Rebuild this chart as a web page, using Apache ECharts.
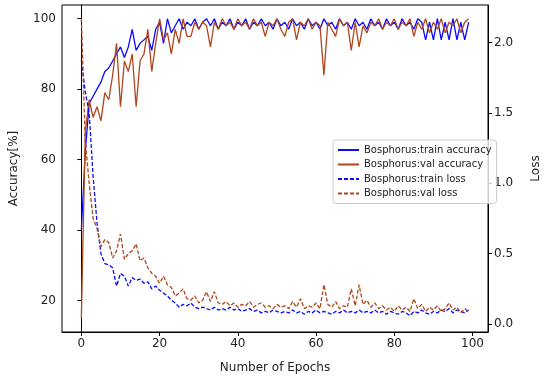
<!DOCTYPE html>
<html>
<head>
<meta charset="utf-8">
<script src="https://cdn.jsdelivr.net/npm/echarts@6/dist/echarts.min.js"></script>
<style>html,body{margin:0;padding:0;background:#fff}#c{width:550px;height:379px}</style>
</head>
<body>
<div id="c"></div>
<script>
const xTicks = [0, 20, 40, 60, 80, 100];
const accTicks = [20, 40, 60, 80, 100];
const lossTicks = [0, 0.5, 1.0, 1.5, 2.0];

const trainAcc = [40, 62, 76, 78, 80, 82, 85, 86, 88, 90,
  92, 89, 92, 97, 91, 93, 94, 95, 91, 97,
  99, 93, 100, 96, 98, 100, 97, 99, 98, 100,
  97, 99, 100, 98, 100, 97, 99, 98, 100, 97,
  99, 98, 100, 97, 99, 98, 100, 98, 99, 97,
  100, 98, 99, 97, 100, 98, 99, 97, 100, 98,
  99, 97, 100, 98, 99, 97, 100, 98, 99, 97,
  100, 98, 99, 97, 100, 98, 99, 97, 100, 98,
  99, 97, 100, 98, 99, 97, 100, 99, 94, 99,
  94, 100, 94, 99, 94, 100, 94, 99, 94, 99];

const valAcc = [15, 68, 77, 72, 75, 71, 79, 77, 84, 93,
  75, 88, 85, 90, 75, 88, 90, 97, 85, 93,
  100, 94, 96, 90, 97, 93, 100, 95, 95, 99,
  97, 99, 98, 92, 99, 97, 100, 98, 99, 97,
  100, 98, 99, 97, 100, 98, 99, 95, 99, 98,
  100, 97, 95, 99, 100, 94, 99, 98, 100, 97,
  99, 98, 84, 99, 97, 95, 100, 98, 99, 91,
  99, 92, 98, 96, 99, 98, 100, 97, 99, 98,
  100, 97, 99, 98, 100, 95, 99, 97, 100, 96,
  99, 97, 100, 96, 99, 98, 100, 96, 99, 100];

const trainLoss = [1.87, 1.65, 1.5, 1.05, 0.72, 0.5, 0.43, 0.42, 0.40, 0.27,
  0.36, 0.34, 0.27, 0.33, 0.31, 0.32, 0.29, 0.30, 0.25, 0.27,
  0.24, 0.22, 0.20, 0.17, 0.15, 0.12, 0.14, 0.13, 0.15, 0.12,
  0.11, 0.12, 0.11, 0.10, 0.12, 0.10, 0.11, 0.10, 0.12, 0.10,
  0.11, 0.09, 0.10, 0.11, 0.09, 0.10, 0.08, 0.09, 0.08, 0.10,
  0.09, 0.08, 0.09, 0.08, 0.10, 0.08, 0.09, 0.07, 0.09, 0.08,
  0.10, 0.08, 0.09, 0.08, 0.07, 0.09, 0.08, 0.10, 0.08, 0.09,
  0.08, 0.10, 0.08, 0.09, 0.08, 0.10, 0.08, 0.09, 0.07, 0.09,
  0.08, 0.07, 0.09, 0.08, 0.06, 0.09, 0.08, 0.10, 0.08, 0.07,
  0.09, 0.08, 0.10, 0.09, 0.11, 0.08, 0.10, 0.09, 0.08, 0.10];

const valLoss = [2.17, 1.3, 1.0, 0.75, 0.68, 0.55, 0.60, 0.58, 0.47, 0.52,
  0.64, 0.46, 0.50, 0.52, 0.57, 0.45, 0.47, 0.40, 0.36, 0.34,
  0.29, 0.34, 0.28, 0.26, 0.20, 0.22, 0.25, 0.18, 0.17, 0.20,
  0.15, 0.17, 0.23, 0.16, 0.23, 0.15, 0.14, 0.16, 0.13, 0.15,
  0.12, 0.14, 0.13, 0.16, 0.12, 0.14, 0.15, 0.12, 0.13, 0.11,
  0.14, 0.12, 0.13, 0.11, 0.16, 0.12, 0.18, 0.11, 0.13, 0.12,
  0.15, 0.11, 0.28, 0.14, 0.12, 0.16, 0.11, 0.13, 0.12, 0.25,
  0.13, 0.28, 0.14, 0.17, 0.12, 0.15, 0.11, 0.13, 0.10, 0.12,
  0.09, 0.13, 0.10, 0.12, 0.09, 0.18, 0.11, 0.14, 0.09, 0.12,
  0.10, 0.13, 0.09, 0.11, 0.15, 0.10, 0.12, 0.08, 0.11, 0.09];

const names = ['Bosphorus:train accuracy', 'Bosphorus:val accuracy', 'Bosphorus:train loss', 'Bosphorus:val loss'];
const BLUE = '#0a0aff';
const BROWN = '#b0461c';
const FONT = 'DejaVu Sans';

function pairs(arr) { return arr.map((v, i) => [i, v]); }

const chart = echarts.init(document.getElementById('c'), null, { renderer: 'canvas' });
chart.setOption({
  animation: false,
  backgroundColor: '#fff',
  grid: { left: 55, right: 48, top: 5, bottom: 42, show: true, borderColor: '#000', borderWidth: 1, backgroundColor: 'transparent' },
  legend: {
    orient: 'vertical', left: 333, top: 140,
    data: names,
    itemWidth: 21, itemHeight: 8, itemGap: 2.5,
    padding: [4, 5, 4, 4],
    borderColor: '#ccc', borderWidth: 1, borderRadius: 3,
    backgroundColor: 'rgba(255,255,255,0.8)',
    itemStyle: { opacity: 0 },
    textStyle: { fontFamily: FONT, fontSize: 10, lineHeight: 12, color: '#222' }
  },
  xAxis: {
    type: 'value', min: -4.95, max: 103.95,
    name: 'Number of Epochs', nameLocation: 'middle', nameGap: 30,
    nameTextStyle: { fontFamily: FONT, fontSize: 12, color: '#222' },
    axisLine: { show: true, onZero: false, lineStyle: { color: '#000' } },
    axisTick: { show: true, length: 4, customValues: xTicks, lineStyle: { color: '#000' } },
    axisLabel: { customValues: xTicks, fontFamily: FONT, fontSize: 12, color: '#222', margin: 6 },
    splitLine: { show: false }
  },
  yAxis: [{
    type: 'value', min: 11.05, max: 103.9, position: 'left',
    name: 'Accuracy[%]', nameLocation: 'middle', nameGap: 42,
    nameTextStyle: { fontFamily: FONT, fontSize: 12, color: '#222' },
    axisLine: { show: true, lineStyle: { color: '#000' } },
    axisTick: { show: true, length: 4, customValues: accTicks, lineStyle: { color: '#000' } },
    axisLabel: { customValues: accTicks, fontFamily: FONT, fontSize: 12, color: '#222', margin: 6 },
    splitLine: { show: false }
  }, {
    type: 'value', min: -0.056, max: 2.266, position: 'right',
    name: 'Loss', nameLocation: 'middle', nameGap: 42,
    nameTextStyle: { fontFamily: FONT, fontSize: 12, color: '#222' },
    axisLine: { show: true, lineStyle: { color: '#000' } },
    axisTick: { show: true, length: 4, customValues: lossTicks, lineStyle: { color: '#000' } },
    axisLabel: { customValues: lossTicks, fontFamily: FONT, fontSize: 12, color: '#222', margin: 6,
      formatter: v => v.toFixed(1) },
    splitLine: { show: false }
  }],
  series: [
    { name: names[0], type: 'line', yAxisIndex: 0, data: pairs(trainAcc), symbol: 'none', color: BLUE,
      lineStyle: { color: BLUE, width: 1.3 } },
    { name: names[1], type: 'line', yAxisIndex: 0, data: pairs(valAcc), symbol: 'none', color: BROWN,
      lineStyle: { color: BROWN, width: 1.3 } },
    { name: names[2], type: 'line', yAxisIndex: 1, data: pairs(trainLoss), symbol: 'none', color: BLUE,
      lineStyle: { color: BLUE, width: 1.3, type: [4, 2] } },
    { name: names[3], type: 'line', yAxisIndex: 1, data: pairs(valLoss), symbol: 'none', color: BROWN,
      lineStyle: { color: BROWN, width: 1.3, type: [4, 2] } }
  ]
});
</script>
</body>
</html>
